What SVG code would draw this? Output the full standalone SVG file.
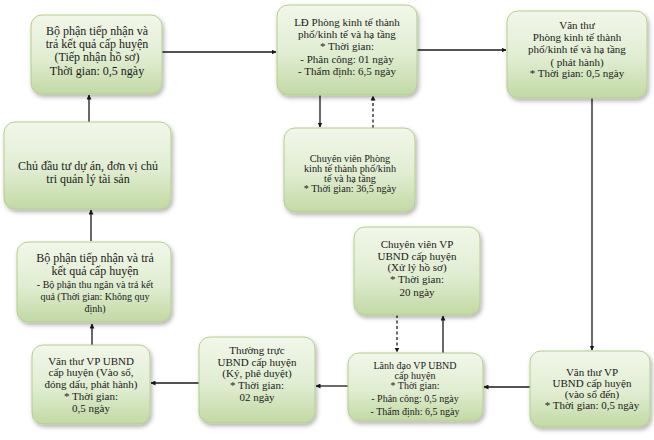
<svg xmlns="http://www.w3.org/2000/svg" width="654" height="440" viewBox="0 0 654 440">
<style>
.box{fill:url(#g);stroke:#b3ce8c;stroke-width:1;filter:url(#sh)}
text{font-family:"Liberation Serif","Times New Roman",serif;fill:#1a1a1a;text-anchor:middle;font-size:11px}
.l{font-size:12px}
.s{font-size:10px}
.m{font-size:10.2px}
.c line{stroke:#1a1a1a;stroke-width:1.3;fill:none}
.c .d{stroke-dasharray:3,2.5}
</style>
<defs>
<linearGradient id="g" x1="0" y1="0" x2="0" y2="1">
<stop offset="0" stop-color="#f2f7ea"/>
<stop offset="0.55" stop-color="#e0edd1"/>
<stop offset="1" stop-color="#c2d9a4"/>
</linearGradient>
<filter id="sh" x="-10%" y="-10%" width="125%" height="130%">
<feDropShadow dx="1.5" dy="2.5" stdDeviation="2" flood-color="#000" flood-opacity="0.3"/>
</filter>
<marker id="a" viewBox="0 0 10 10" refX="9" refY="5" markerWidth="5" markerHeight="5" orient="auto" markerUnits="userSpaceOnUse">
<path d="M0,0 L10,5 L0,10 z" fill="#1a1a1a"/>
</marker>
</defs>
<rect width="654" height="440" fill="#ffffff"/>

<g class="c" id="connectors">
<line x1="162" y1="52" x2="276" y2="52" marker-end="url(#a)"/>
<line x1="417" y1="50" x2="506" y2="50" marker-end="url(#a)"/>
<line x1="592" y1="98" x2="592" y2="350" marker-end="url(#a)"/>
<line x1="530" y1="387" x2="484" y2="387" marker-end="url(#a)"/>
<line x1="348" y1="386" x2="316" y2="386" marker-end="url(#a)"/>
<line x1="199" y1="383" x2="151" y2="383" marker-end="url(#a)"/>
<line x1="92" y1="345" x2="92" y2="324" marker-end="url(#a)"/>
<line x1="91" y1="241" x2="91" y2="210" marker-end="url(#a)"/>
<line x1="89" y1="122" x2="89" y2="95" marker-end="url(#a)"/>
<line x1="320" y1="95" x2="320" y2="127" marker-end="url(#a)"/>
<line class="d" x1="373" y1="128" x2="373" y2="96" marker-end="url(#a)"/>
<line x1="443" y1="353" x2="443" y2="316" marker-end="url(#a)"/>
<line class="d" x1="397" y1="315" x2="397" y2="352" marker-end="url(#a)"/>
</g>

<g id="n1">
<rect class="box" x="31" y="15" width="131" height="79" rx="11"/>
<text class="l" x="97" y="35">Bộ phận tiếp nhận và</text>
<text class="l" x="97" y="48">trả kết quả cấp huyện</text>
<text class="l" x="97" y="61">(Tiếp nhận hồ sơ)</text>
<text class="l" x="97" y="75">Thời gian: 0,5 ngày</text>
</g>

<g id="n2">
<rect class="box" x="277" y="5" width="140" height="90" rx="11"/>
<text x="347" y="26">LĐ Phòng kinh tế thành</text>
<text x="347" y="38">phố/kinh tế và hạ tầng</text>
<text x="347" y="50">* Thời gian:</text>
<text x="347" y="63">- Phân công: 01 ngày</text>
<text x="347" y="75">- Thẩm định: 6,5 ngày</text>
</g>

<g id="n3">
<rect class="box" x="507" y="11" width="140" height="87" rx="11"/>
<text x="577" y="29">Văn thư</text>
<text x="577" y="41">Phòng kinh tế thành</text>
<text x="577" y="53">phố/kinh tế và hạ tầng</text>
<text x="577" y="66">( phát hành)</text>
<text x="577" y="77">* Thời gian: 0,5 ngày</text>
</g>

<g id="n4">
<rect class="box" x="284" y="128" width="131" height="84" rx="11"/>
<text class="m" x="350" y="162">Chuyên viên Phòng</text>
<text class="m" x="350" y="172">kinh tế thành phố/kinh</text>
<text class="m" x="350" y="182">tế và hạ tầng</text>
<text class="m" x="350" y="192">* Thời gian: 36,5 ngày</text>
</g>

<g id="n5">
<rect class="box" x="4" y="122" width="167" height="87" rx="11"/>
<text class="l" x="88" y="170">Chủ đầu tư dự án, đơn vị chủ</text>
<text class="l" x="88" y="183">tri quản lý tài sản</text>
</g>

<g id="n6">
<rect class="box" x="17" y="242" width="154" height="80" rx="11"/>
<text class="l" x="95" y="262">Bộ phận tiếp nhận và trả</text>
<text class="l" x="95" y="275">kết quả cấp huyện</text>
<text class="s" x="95" y="288">- Bộ phận thu ngân và trả kết</text>
<text class="s" x="95" y="300">quả (Thời gian: Không quy</text>
<text class="s" x="95" y="312">định)</text>
</g>

<g id="n7">
<rect class="box" x="354" y="227" width="126" height="88" rx="11"/>
<text x="417" y="248">Chuyên viên VP</text>
<text x="417" y="260">UBND cấp huyện</text>
<text x="417" y="271">(Xử lý hồ sơ)</text>
<text x="417" y="283">* Thời gian:</text>
<text x="417" y="296">20 ngày</text>
</g>

<g id="n8">
<rect class="box" x="348" y="353" width="135" height="68" rx="11"/>
<text class="s" x="415" y="369">Lãnh đạo VP UBND</text>
<text class="s" x="415" y="379">cấp huyện</text>
<text class="s" x="415" y="389">* Thời gian:</text>
<text class="s" x="415" y="402">- Phân công: 0,5 ngày</text>
<text class="s" x="415" y="415">- Thẩm định: 6,5  ngày</text>
</g>

<g id="n9">
<rect class="box" x="32" y="345" width="118" height="79" rx="11"/>
<text x="91" y="365">Văn thư VP UBND</text>
<text x="91" y="376">cấp huyện (Vào sổ,</text>
<text x="91" y="388">đóng dấu, phát hành)</text>
<text x="91" y="400">* Thời gian:</text>
<text x="91" y="412">0,5 ngày</text>
</g>

<g id="n10">
<rect class="box" x="199" y="337" width="116" height="86" rx="11"/>
<text x="257" y="354">Thường trực</text>
<text x="257" y="366">UBND cấp huyện</text>
<text x="257" y="377">(Ký, phê duyệt)</text>
<text x="257" y="389">* Thời gian:</text>
<text x="257" y="401">02 ngày</text>
</g>

<g id="n11">
<rect class="box" x="530" y="351" width="120" height="76" rx="11"/>
<text x="592" y="376">Văn thư VP</text>
<text x="592" y="387">UBND cấp huyện</text>
<text x="592" y="398">(vào sổ đến)</text>
<text x="592" y="409">* Thời gian: 0,5 ngày</text>
</g>
</svg>
